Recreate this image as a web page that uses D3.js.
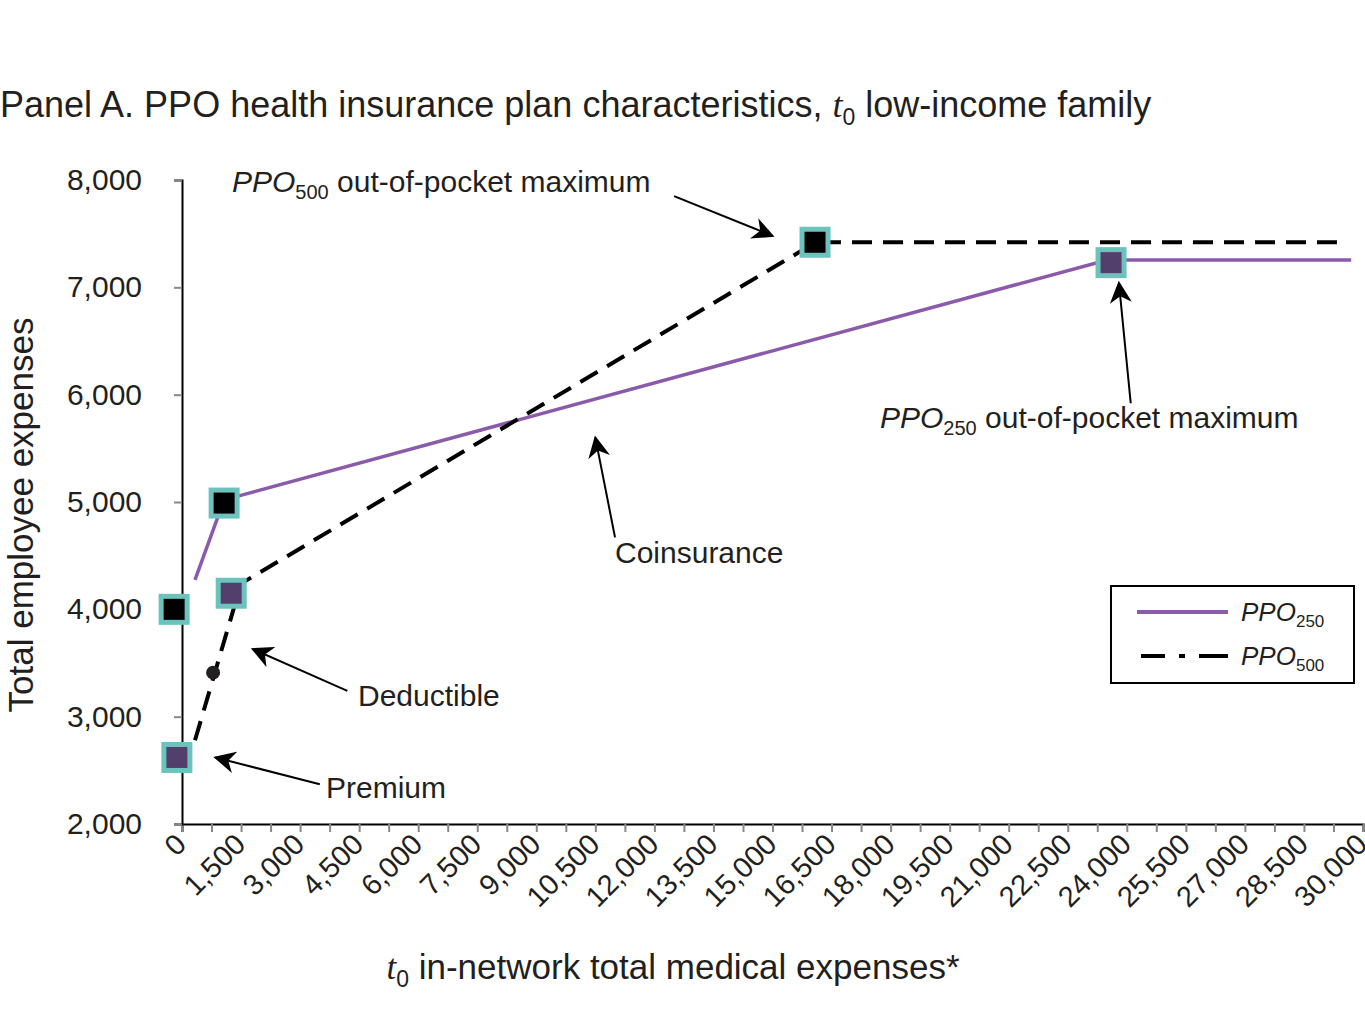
<!DOCTYPE html>
<html><head><meta charset="utf-8">
<script src="https://cdn.jsdelivr.net/npm/d3@7"></script>
<style>body{margin:0;background:#fff}text{font-family:"Liberation Sans",Arial,sans-serif;fill:#231f20}</style>
</head><body><svg width="1365" height="1024"></svg>
<script>
// values
var xTicks = d3.range(0, 30001, 750)
var xLabels = d3.range(0, 30001, 1500)
var yTicks = [2000, 3000, 4000, 5000, 6000, 7000, 8000]
var ppo250 = [[330, 4275], [1070, 5020], [23500, 7255], [29700, 7255]]
var ppo500 = [[330, 2780], [1500, 4240], [16100, 7420], [29600, 7420]]
var purpleMarks = [[-130, 2620], [1250, 4150], [23600, 7230]]
var blackMarks = [[-200, 4000], [1070, 4990], [16080, 7420]]
var dot = [790, 3410]
var notes = [
  {text: "out-of-pocket maximum", sub: "500", tx: 232, ty: 192, from: [12500, 7850], to: [15000, 7480]},
  {text: "out-of-pocket maximum", sub: "250", tx: 880, ty: 428, from: [24100, 5920], to: [23800, 7040]},
  {text: "Coinsurance", tx: 615, ty: 563, from: [11000, 4670], to: [10500, 5600]},
  {text: "Deductible", tx: 358, ty: 706, from: [4200, 3240], to: [1800, 3630]},
  {text: "Premium", tx: 326, ty: 798, from: [3500, 2370], to: [850, 2620]}
]

var svg = d3.select("svg")
var x = d3.scaleLinear().domain([0, 30000]).range([182, 1363])
var y = d3.scaleLinear().domain([2000, 8000]).range([824, 180])

svg.append("defs").append("marker").attr("id", "arr").attr("viewBox", "0 0 10 10")
  .attr("refX", 9).attr("refY", 5).attr("markerWidth", 22).attr("markerHeight", 22)
  .attr("markerUnits", "userSpaceOnUse").attr("orient", "auto")
  .append("path").attr("d", "M0,0L10,5L0,10L3,5Z").attr("fill", "#000")

svg.append("text").attr("x", 0).attr("y", 117).attr("font-size", 36)
  .html('Panel A. PPO health insurance plan characteristics, <tspan font-style="italic" font-family="Liberation Serif">t</tspan><tspan font-size="23" dy="8">0</tspan><tspan dy="-8"> low-income family</tspan>')

// axes
var xa = svg.append("g").attr("transform", "translate(0,824)")
  .call(d3.axisBottom(x).tickValues(xTicks).tickSize(8).tickFormat(""))
xa.select(".domain").attr("stroke", "#000").attr("stroke-width", 2)
xa.selectAll(".tick line").attr("stroke", "#888").attr("stroke-width", 2)
svg.append("g").selectAll("text").data(xLabels).join("text")
  .attr("transform", d => "translate(" + (x(d) + 6) + ",846) rotate(-45)")
  .attr("text-anchor", "end").attr("font-size", 29)
  .text(d => d3.format(",")(d))

var ya = svg.append("g").attr("transform", "translate(182,0)")
  .call(d3.axisLeft(y).tickValues(yTicks).tickSize(8).tickPadding(32).tickFormat(d3.format(",")))
ya.select(".domain").attr("stroke", "#000").attr("stroke-width", 2)
ya.selectAll(".tick line").attr("stroke", "#888").attr("stroke-width", 2)
ya.selectAll("text").attr("font-size", 30).attr("fill", "#231f20").attr("font-family", "Liberation Sans, Arial")

svg.append("text").attr("transform", "translate(33,515) rotate(-90)").attr("text-anchor", "middle")
  .attr("font-size", 35).text("Total employee expenses")
svg.append("text").attr("x", 673).attr("y", 979).attr("text-anchor", "middle").attr("font-size", 35)
  .html('<tspan font-style="italic" font-family="Liberation Serif">t</tspan><tspan font-size="23" dy="8">0</tspan><tspan dy="-8"> in-network total medical expenses*</tspan>')

var line = d3.line().x(d => x(d[0])).y(d => y(d[1]))
svg.append("path").attr("d", line(ppo250)).attr("fill", "none").attr("stroke", "#8a5aab").attr("stroke-width", 3.5)
svg.append("path").attr("d", line(ppo500)).attr("fill", "none").attr("stroke", "#000").attr("stroke-width", 4)
  .attr("stroke-dasharray", "20,11")

svg.append("circle").attr("cx", x(dot[0])).attr("cy", y(dot[1])).attr("r", 7).attr("fill", "#231f20")

function marks(data, fill) {
  svg.append("g").selectAll("rect").data(data).join("rect")
    .attr("x", d => x(d[0]) - 13).attr("y", d => y(d[1]) - 13).attr("width", 26).attr("height", 26)
    .attr("fill", fill).attr("stroke", "#6cc2bd").attr("stroke-width", 5)
}
marks(purpleMarks, "#523f6b")
marks(blackMarks, "#000")

// annotations
notes.forEach(n => {
  var t = svg.append("text").attr("x", n.tx).attr("y", n.ty).attr("font-size", 30)
  if (n.sub) t.html('<tspan font-style="italic">PPO</tspan><tspan font-size="20" dy="7">' + n.sub + '</tspan><tspan dy="-7"> ' + n.text + '</tspan>')
  else t.text(n.text)
  svg.append("line").attr("x1", x(n.from[0])).attr("y1", y(n.from[1])).attr("x2", x(n.to[0])).attr("y2", y(n.to[1]))
    .attr("stroke", "#000").attr("stroke-width", 2).attr("marker-end", "url(#arr)")
})

// legend
var lg = svg.append("g").attr("transform", "translate(1111,586)")
lg.append("rect").attr("width", 243).attr("height", 97).attr("fill", "#fff").attr("stroke", "#000").attr("stroke-width", 2)
lg.append("line").attr("x1", 26).attr("x2", 117).attr("y1", 26).attr("y2", 26).attr("stroke", "#8a5aab").attr("stroke-width", 4)
lg.append("line").attr("x1", 30).attr("x2", 117).attr("y1", 70).attr("y2", 70).attr("stroke", "#000").attr("stroke-width", 4)
  .attr("stroke-dasharray", "24,14,6,14,30")
;[["250", 35], ["500", 79]].forEach(d => {
  lg.append("text").attr("x", 130).attr("y", d[1]).attr("font-size", 26)
    .html('<tspan font-style="italic">PPO</tspan><tspan font-size="17" dy="6">' + d[0] + '</tspan>')
})
</script></body></html>
